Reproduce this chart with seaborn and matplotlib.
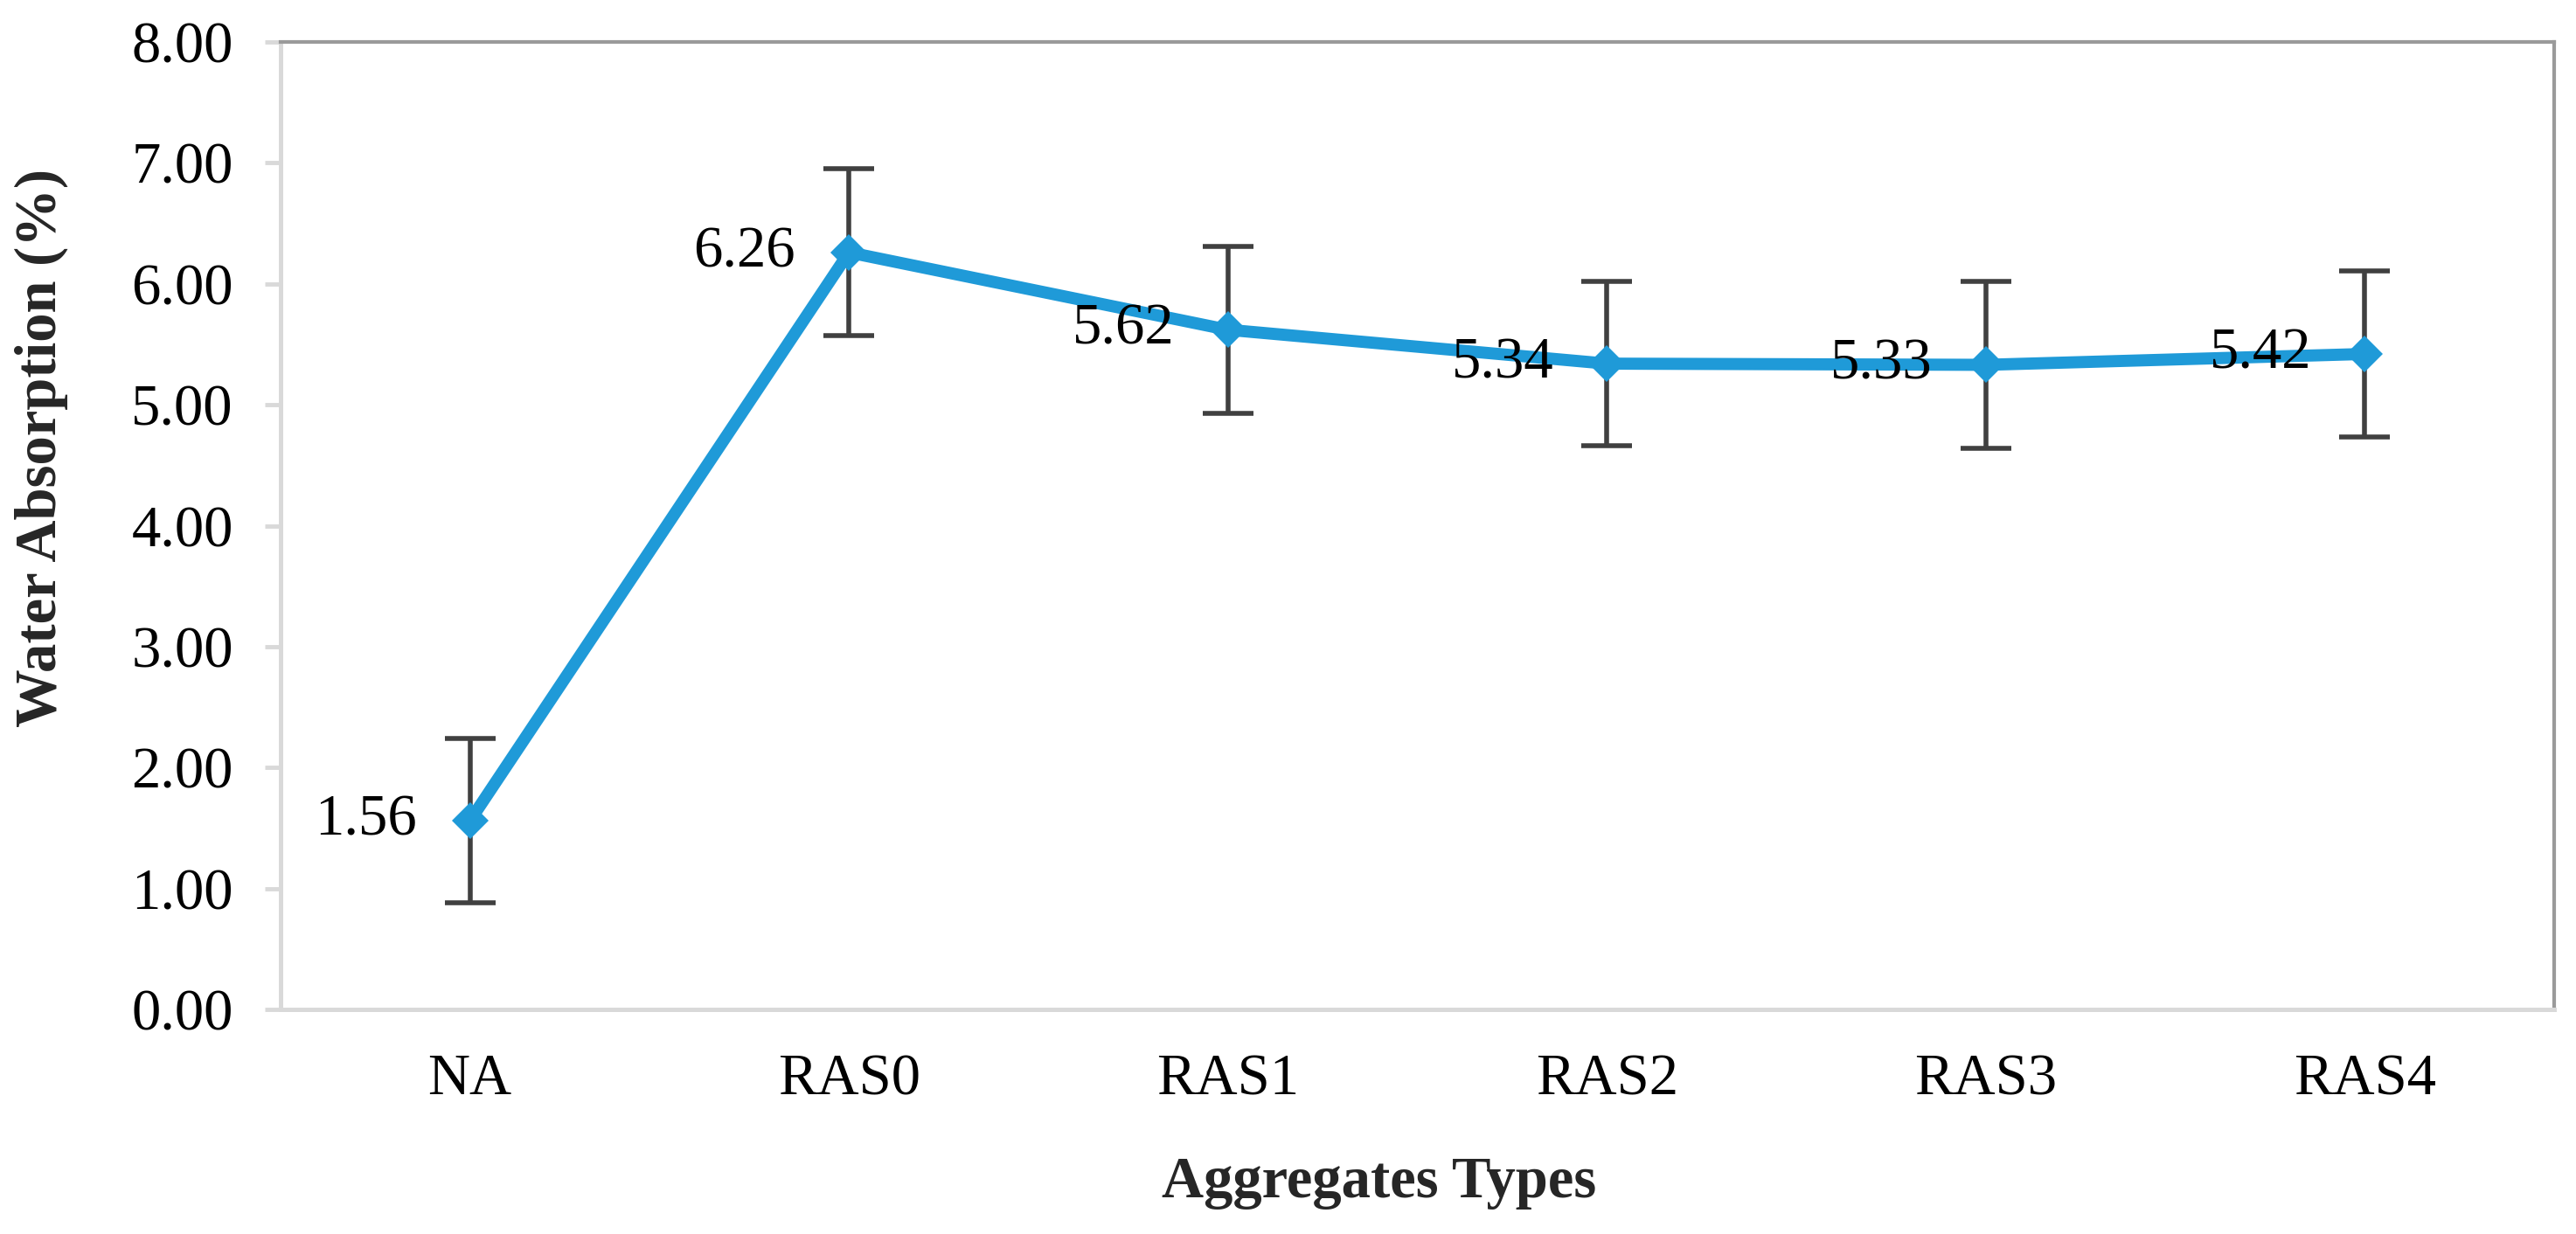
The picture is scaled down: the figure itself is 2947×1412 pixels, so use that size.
import pandas as pd
import matplotlib.pyplot as plt
import seaborn as sns
from matplotlib.ticker import FormatStrFormatter

# values
agg_types = ['NA', 'RAS0', 'RAS1', 'RAS2', 'RAS3', 'RAS4']
water_abs = [1.56, 6.26, 5.62, 5.34, 5.33, 5.42]
abs_err = [0.68, 0.69, 0.69, 0.68, 0.69, 0.69]
y_ticks = [0, 1, 2, 3, 4, 5, 6, 7, 8]

df = pd.DataFrame({'type': agg_types, 'wa': water_abs, 'err': abs_err})

sns.set_style('white')
plt.rcParams['font.family'] = ['Liberation Serif', 'DejaVu Serif']

fig = plt.figure(figsize=(29.47, 14.12), dpi=100)
ax = fig.add_axes([0.1089, 0.182, 0.8826, 0.784])

ax.errorbar(df['type'], df['wa'], yerr=df['err'], fmt='none', ecolor='#404040',
            elinewidth=4, capsize=21, capthick=4, zorder=2)
sns.lineplot(data=df, x='type', y='wa', ax=ax, sort=False, color='#1f9ad8',
             linewidth=10, marker='D', markersize=21, markeredgewidth=0, zorder=3)

for i, (t, v) in enumerate(zip(df['type'], df['wa'])):
    ax.annotate(f'{v:.2f}', (i, v), xytext=(-44, 0), textcoords='offset points',
                ha='right', va='center', fontsize=48, color='black', zorder=4)

ax.set_xlim(-0.5, 5.5)
ax.set_ylim(0, 8)
ax.set_yticks(y_ticks)
ax.yaxis.set_major_formatter(FormatStrFormatter('%.2f'))

ax.tick_params(axis='y', length=13, width=3.5, color='#d9d9d9', pad=26,
               labelsize=48, labelcolor='black', left=True)
ax.tick_params(axis='x', length=0, pad=36, labelsize=48, labelcolor='black')

for side in ['left', 'bottom']:
    ax.spines[side].set_color('#d9d9d9')
    ax.spines[side].set_linewidth(3.6)
for side in ['top', 'right']:
    ax.spines[side].set_color('#9a9a9a')
    ax.spines[side].set_linewidth(3)

ax.set_ylabel('Water Absorption (%)', fontsize=48, fontweight='bold')
ax.yaxis.set_label_coords(-0.0934, 0.58)
ax.set_xlabel('Aggregates Types', fontsize=48, fontweight='bold')
ax.xaxis.set_label_coords(0.483, -0.152)

plt.savefig('out.png', dpi=100)
